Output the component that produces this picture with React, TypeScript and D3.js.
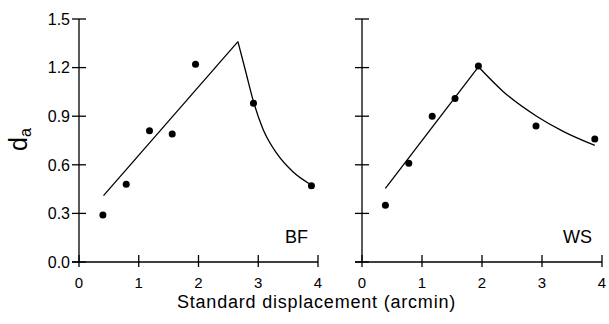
import React from "react";
import * as d3 from "d3";

const xTicks = [0, 1, 2, 3, 4];
const yTicks = [0, 0.3, 0.6, 0.9, 1.2, 1.5];

// BF: observed points and fitted curve
const bfX = [0.4, 0.79, 1.18, 1.56, 1.95, 2.92, 3.89];
const bfY = [0.29, 0.48, 0.81, 0.79, 1.22, 0.98, 0.47];
const bfFitX = [0.41, 2.66, 2.78, 2.92, 3.08, 3.31, 3.58, 3.89];
const bfFitY = [0.41, 1.36, 1.19, 0.99, 0.82, 0.67, 0.557, 0.475];

// WS
const wsX = [0.39, 0.78, 1.17, 1.55, 1.94, 2.9, 3.88];
const wsY = [0.35, 0.61, 0.9, 1.01, 1.21, 0.84, 0.76];
const wsFitX = [0.39, 1.94, 2.36, 2.91, 3.36, 3.88];
const wsFitY = [0.455, 1.205, 1.05, 0.9, 0.805, 0.72];

const font = "'Liberation Sans', Arial, Helvetica, sans-serif";

const yScale = d3.scaleLinear().domain([0, 1.5]).range([262, 19]);

const Panel = ({
  x0,
  x1,
  xs,
  ys,
  fitX,
  fitY,
  peakIndex,
  name,
  showYLabels,
}: {
  x0: number;
  x1: number;
  xs: number[];
  ys: number[];
  fitX: number[];
  fitY: number[];
  peakIndex: number;
  name: string;
  showYLabels: boolean;
}) => {
  const x = d3.scaleLinear().domain([0, 4]).range([x0, x1]);
  const pts: [number, number][] = fitX.map((v, i) => [v, fitY[i]]);
  const rise = d3
    .line<[number, number]>()
    .x((d) => x(d[0]))
    .y((d) => yScale(d[1]))(pts.slice(0, peakIndex + 1));
  const fall = d3
    .line<[number, number]>()
    .curve(d3.curveMonotoneX)
    .x((d) => x(d[0]))
    .y((d) => yScale(d[1]))(pts.slice(peakIndex));
  const ax = x(0);
  const ay = yScale(0);
  return (
    <g>
      {/* y axis */}
      <line x1={ax} x2={ax} y1={yScale(0)} y2={yScale(1.5)} stroke="#000" strokeWidth={1.3} />
      {yTicks.map((t) => (
        <g key={t}>
          <line x1={ax - 7} x2={ax + 7} y1={yScale(t)} y2={yScale(t)} stroke="#000" strokeWidth={1.3} />
          {showYLabels && (
            <text
              x={ax - 9}
              y={yScale(t)}
              dy="0.36em"
              textAnchor="end"
              fontSize={16}
              fontFamily={font}
            >
              {t.toFixed(1)}
            </text>
          )}
        </g>
      ))}
      {/* x axis */}
      <line x1={ax - 7} x2={x(4)} y1={ay} y2={ay} stroke="#000" strokeWidth={1.3} />
      {xTicks.map((t) => (
        <g key={t}>
          <line x1={x(t)} x2={x(t)} y1={ay - 7} y2={ay + 5} stroke="#000" strokeWidth={1.3} />
          <text x={x(t)} y={288} textAnchor="middle" fontSize={15} fontFamily={font}>
            {t}
          </text>
        </g>
      ))}
      <path d={rise ?? ""} fill="none" stroke="#000" strokeWidth={1.3} />
      <path d={fall ?? ""} fill="none" stroke="#000" strokeWidth={1.3} />
      {xs.map((v, i) => (
        <circle key={i} cx={x(v)} cy={yScale(ys[i])} r={3.5} fill="#000" />
      ))}
      <text x={x(4) - 10} y={243} textAnchor="end" fontSize={18} fontFamily={font}>
        {name}
      </text>
    </g>
  );
};

export default function App() {
  return (
    <svg
      width={609}
      height={324}
      style={{ position: "absolute", left: 0, top: 0, background: "#fff" }}
    >
      <Panel x0={79} x1={318} xs={bfX} ys={bfY} fitX={bfFitX} fitY={bfFitY} peakIndex={1} name="BF" showYLabels />
      <Panel x0={362} x1={602} xs={wsX} ys={wsY} fitX={wsFitX} fitY={wsFitY} peakIndex={1} name="WS" showYLabels={false} />
      <g transform="translate(27,151) rotate(-90)">
        <text x={0} y={0} fontSize={25} fontFamily={font}>
          d
        </text>
        <text x={14} y={4} fontSize={16} fontFamily={font}>
          a
        </text>
      </g>
      <text
        x={316.5}
        y={308}
        textAnchor="middle"
        fontSize={18}
        letterSpacing={0.8}
        fontFamily={font}
      >
        Standard displacement (arcmin)
      </text>
    </svg>
  );
}
